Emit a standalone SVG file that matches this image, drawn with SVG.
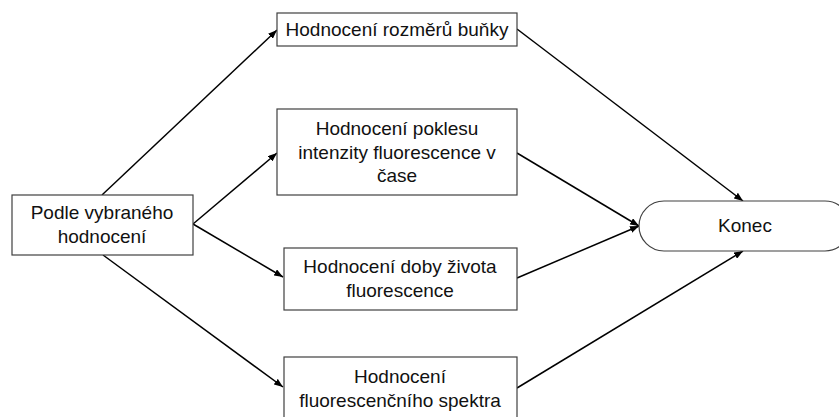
<svg xmlns="http://www.w3.org/2000/svg" width="839" height="417" viewBox="0 0 839 417">
<defs>
<marker id="ah" markerWidth="9" markerHeight="7" refX="9" refY="3.5" orient="auto" markerUnits="userSpaceOnUse">
<path d="M0,0 L9,3.5 L0,7 Z" fill="#000"/>
</marker>
<style>
.box{fill:#fff;stroke:#404040;stroke-width:1.2}
.t{font-family:"Liberation Sans",Arial,sans-serif;font-size:19px;fill:#111;text-anchor:middle}
.c{stroke:#000;stroke-width:1.5;fill:none;marker-end:url(#ah)}
</style>
</defs>
<rect width="839" height="417" fill="#fff"/>
<g id="connectors">
<line class="c" x1="102" y1="195" x2="277" y2="30"/>
<line class="c" x1="193" y1="224" x2="277" y2="153"/>
<line class="c" x1="193" y1="224" x2="283" y2="277"/>
<line class="c" x1="103" y1="255" x2="283" y2="387"/>
<line class="c" x1="517" y1="29" x2="743" y2="201"/>
<line class="c" x1="517" y1="153" x2="639" y2="226"/>
<line class="c" x1="517" y1="278" x2="639" y2="226"/>
<line class="c" x1="517" y1="388" x2="743" y2="251"/>
</g>
<g id="start">
<rect class="box" x="12" y="195" width="181" height="60"/>
<text class="t" x="102" y="219">Podle vybraného</text>
<text class="t" x="102" y="243">hodnocení</text>
</g>
<g id="n1">
<rect class="box" x="277" y="13" width="240" height="33"/>
<text class="t" x="397" y="36">Hodnocení rozměrů  buňky</text>
</g>
<g id="n2">
<rect class="box" x="277" y="109" width="240" height="86"/>
<text class="t" x="397" y="135">Hodnocení poklesu</text>
<text class="t" x="397" y="159">intenzity fluorescence v</text>
<text class="t" x="397" y="182">čase</text>
</g>
<g id="n3">
<rect class="box" x="284" y="248" width="233" height="62"/>
<text class="t" x="400" y="273">Hodnocení doby života</text>
<text class="t" x="400" y="297">fluorescence</text>
</g>
<g id="n4">
<rect class="box" x="284" y="357" width="233" height="62"/>
<text class="t" x="400" y="383">Hodnocení</text>
<text class="t" x="400" y="407">fluorescenčního spektra</text>
</g>
<g id="end">
<rect class="box" x="639" y="201" width="211" height="50" rx="25" ry="25"/>
<text class="t" x="745" y="232">Konec</text>
</g>
</svg>
